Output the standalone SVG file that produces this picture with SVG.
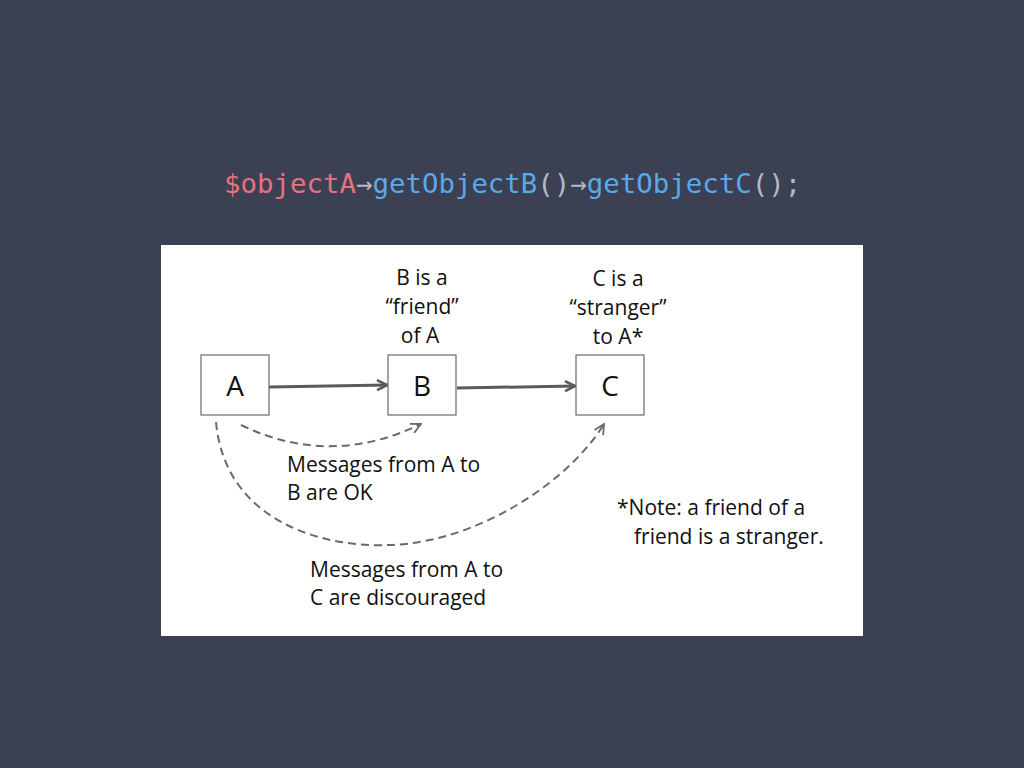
<svg xmlns="http://www.w3.org/2000/svg" width="1024" height="768" viewBox="0 0 1024 768">
<defs>
<style>
.lbl{font-family:"Open Sans",Lato,"Liberation Sans",sans-serif;font-size:21px;fill:#111;}
.big{font-family:"Open Sans",Lato,"Liberation Sans",sans-serif;font-size:28px;fill:#111;text-anchor:middle;}
.box{fill:#fff;stroke:#6a6a6a;stroke-width:1.2;}
.solid{fill:none;stroke:#5a5a5a;stroke-width:3;}
.dash{fill:none;stroke:#6a6a6a;stroke-width:2;stroke-dasharray:8 5;}
.code{font-family:"DejaVu Sans Mono","Liberation Mono",monospace;font-size:27.4px;}
</style>
<marker id="ah" viewBox="0 0 12 12" refX="11" refY="6" markerWidth="12" markerHeight="12" markerUnits="userSpaceOnUse" orient="auto">
<path d="M1,1 L11,6 L1,11" fill="none" stroke="#5a5a5a" stroke-width="2.6"/>
</marker>
<marker id="ahd" viewBox="0 0 12 12" refX="11" refY="6" markerWidth="12" markerHeight="12" markerUnits="userSpaceOnUse" orient="auto">
<path d="M1,1 L11,6 L1,11" fill="none" stroke="#6a6a6a" stroke-width="1.8"/>
</marker>
</defs>
<rect x="0" y="0" width="1024" height="768" fill="#3c4053"/>
<text class="code" x="224" y="193"><tspan fill="#e5727e">$objectA</tspan><tspan fill="#b4b8c4">→</tspan><tspan fill="#5aa9e8">getObjectB</tspan><tspan fill="#b4b8c4">()→</tspan><tspan fill="#5aa9e8">getObjectC</tspan><tspan fill="#b4b8c4">();</tspan></text>
<rect x="161" y="245" width="702" height="391" fill="#ffffff"/>
<g id="connectors">
<path class="solid" d="M269,387 L387,385" marker-end="url(#ah)"/>
<path class="solid" d="M457,388 L575,386" marker-end="url(#ah)"/>
<path class="dash" d="M241,425 Q330,468 421,424" marker-end="url(#ahd)"/>
<path class="dash" d="M216,422 C225,520 320,548 390,545 C480,542 570,480 604,424" marker-end="url(#ahd)"/>
</g>
<g id="nodeA"><rect class="box" x="201" y="355" width="68" height="60"/><text class="big" x="235" y="396">A</text></g>
<g id="nodeB"><rect class="box" x="388" y="355" width="68" height="60"/><text class="big" x="422" y="396">B</text></g>
<g id="nodeC"><rect class="box" x="576" y="355" width="68" height="60"/><text class="big" x="610" y="396">C</text></g>
<g id="labelB" class="lbl" text-anchor="middle"><text x="422" y="285">B is a</text><text x="422" y="314">“friend”</text><text x="420" y="343">of A</text></g>
<g id="labelC" class="lbl" text-anchor="middle"><text x="618" y="286">C is a</text><text x="618" y="315">“stranger”</text><text x="618" y="344">to A*</text></g>
<g id="msgAB" class="lbl"><text x="287" y="472">Messages from A to</text><text x="287" y="500">B are OK</text></g>
<g id="msgAC" class="lbl"><text x="310" y="577">Messages from A to</text><text x="310" y="605">C are discouraged</text></g>
<g id="note" class="lbl"><text x="617" y="515">*Note: a friend of a</text><text x="634" y="544">friend is a stranger.</text></g>
</svg>
